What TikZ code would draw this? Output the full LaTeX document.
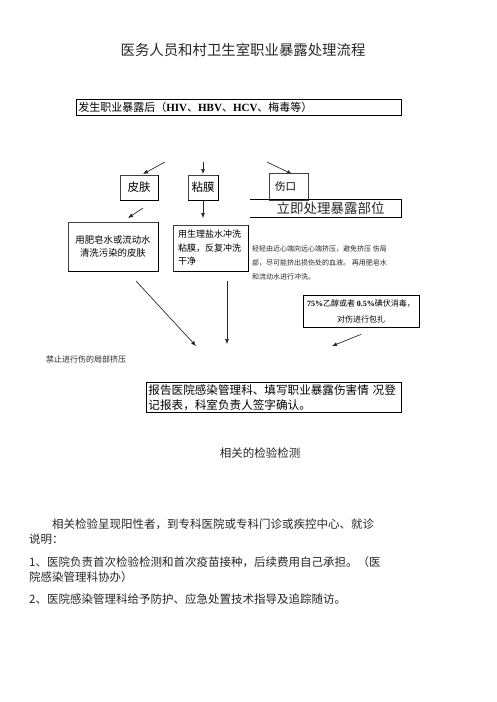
\documentclass[tikz,border=0pt]{standalone}
\usepackage{fontspec}
\setmainfont{Noto Sans CJK SC}
\newfontfamily\latin{Liberation Serif}
\usetikzlibrary{arrows.meta}
\tikzset{
  box/.style={draw=black!75, line width=0.5pt, inner sep=0pt},
  edgebox/.style={line width=1pt, draw=black},
  arr/.style={-{Latex[length=5pt,width=4pt]}, line width=0.6pt, draw=black!85, fill=black!85},
  txt/.style={inner sep=0pt, text=black!85},
}
\begin{document}
\begin{tikzpicture}[x=1pt,y=-1pt]
\useasboundingbox (0,0) rectangle (496,702);

% title
\node[txt, font=\fontsize{14.4}{16}\selectfont] (title) at (243,50) {医务人员和村卫生室职业暴露处理流程};

% start box
\node[box, draw=black, line width=0.8pt, anchor=north west, inner xsep=2pt, text width=321pt, minimum height=16pt, align=left,
      font=\fontsize{11}{13}\selectfont] (start) at (76,99)
      {发生职业暴露后（{\latin\bfseries HIV}、{\latin\bfseries HBV}、{\latin\bfseries HCV}、梅毒等）};

% top arrows
\coordinate (a1s) at (165,162); \coordinate (a1e) at (143,174);
\coordinate (a2s) at (203,162); \coordinate (a2e) at (203,174);
\coordinate (a3s) at (267,162); \coordinate (a3e) at (292,174);
\draw[arr] (a1s) -- (a1e);
\draw[arr] (a2s) -- (a2e);
\draw[arr] (a3s) -- (a3e);

% three site boxes
\node[box, minimum width=38pt, minimum height=25pt, font=\fontsize{11.5}{13}\selectfont] (skin) at (139,187.5) {皮肤};
\node[box, minimum width=30pt, minimum height=25pt, font=\fontsize{11.5}{13}\selectfont] (muc) at (203,187.5) {粘膜};
\node[box, minimum width=39pt, minimum height=27pt, font=\fontsize{10.5}{13}\selectfont] (wound) at (288.5,186.5) {伤口\hspace*{6pt}};
\draw[edgebox] (skin.north east) -- (skin.south east) -- (skin.south west);
\draw[edgebox] (muc.north east) -- (muc.south east) -- (muc.south west);

% immediate treatment box (no left border)
\node[txt, minimum width=151pt, minimum height=17pt, font=\fontsize{13.5}{15}\selectfont] (now) at (325.5,208.5) {\hspace*{10pt}立即处理暴露部位};
\draw[line width=0.8pt] (now.north west) -- (now.north east) -- (now.south east) -- (now.south west);

% arrows down from skin and mucosa
\coordinate (s1s) at (143,208); \coordinate (s1e) at (128,218);
\draw[arr] (s1s) -- (s1e);
\coordinate (m1e) at (203,218);
\draw[arr] (muc.south) -- (m1e);

% treatment boxes
\node[box, minimum width=90pt, minimum height=49pt, align=center, font=\fontsize{9.4}{13}\selectfont] (soap) at (113,246.5)
  {用肥皂水或流动水\\清洗污染的皮肤};
\draw[edgebox] (soap.north east) -- (soap.south east) -- (soap.south west);
\node[box, minimum width=75pt, minimum height=46pt, inner xsep=5pt, text width=65pt, align=left, font=\fontsize{9}{13.5}\selectfont] (saline) at (210.5,248)
  {用生理盐水冲洗\\粘膜，反复冲洗\\干净};
\draw[edgebox] (saline.north east) -- (saline.south east) -- (saline.south west);

% wound text
\node[txt, anchor=west, align=left, font=\fontsize{7}{14}\selectfont] (squeeze) at (252,263)
  {轻轻由近心端向远心端挤压，避免挤压 伤局\\部，尽可能挤出损伤处的血液。 再用肥皂水\\和流动水进行冲洗。};

% disinfection box
\node[box, draw=black, line width=0.8pt, minimum width=116pt, minimum height=32pt, align=center, font=\fontsize{8}{16}\selectfont] (disinf) at (361,311)
  {{\latin\bfseries 75\%}乙醇或者 {\latin\bfseries 0.5\%}碘伏消毒，\\对伤进行包扎};

% arrows to report
\coordinate (b1s) at (136,281); \coordinate (b1e) at (196,346);
\coordinate (b2s) at (227,281); \coordinate (b2e) at (227,344);
\coordinate (b3e) at (332,346);
\draw[arr] (b1s) -- (b1e);
\draw[arr] (b2s) -- (b2e);
\draw[arr] ([yshift=-7pt]disinf.south) -- (b3e);

% prohibition text
\node[txt, anchor=west, font=\fontsize{8}{10}\selectfont] (forbid) at (46,359) {禁止进行伤的局部挤压};

% report box
\node[box, draw=black, line width=0.9pt, anchor=north west, inner xsep=2pt, text width=251pt, minimum height=30pt, align=left,
      font=\fontsize{11.6}{15}\selectfont] (report) at (146,382)
      {报告医院感染管理科、填写职业暴露伤害情 况登\\记报表，科室负责人签字确认。};

% test heading
\node[txt, font=\fontsize{11.5}{13}\selectfont] (test) at (260,453) {相关的检验检测};

% paragraph
\node[txt, anchor=west, font=\fontsize{11.5}{13}\selectfont] (p1) at (52,524) {相关检验呈现阳性者，到专科医院或专科门诊或疾控中心、就诊};
\node[txt, anchor=west, font=\fontsize{11.5}{13}\selectfont] (p2) at (29,539) {说明：};
\node[txt, anchor=west, font=\fontsize{11.5}{13}\selectfont] (p3) at (29,562) {1、医院负责首次检验检测和首次疫苗接种，后续费用自己承担。（医};
\node[txt, anchor=west, font=\fontsize{11.5}{13}\selectfont] (p4) at (29,577) {院感染管理科协办）};
\node[txt, anchor=west, font=\fontsize{11.5}{13}\selectfont] (p5) at (29,599) {2、医院感染管理科给予防护、应急处置技术指导及追踪随访。};
\end{tikzpicture}
\end{document}
